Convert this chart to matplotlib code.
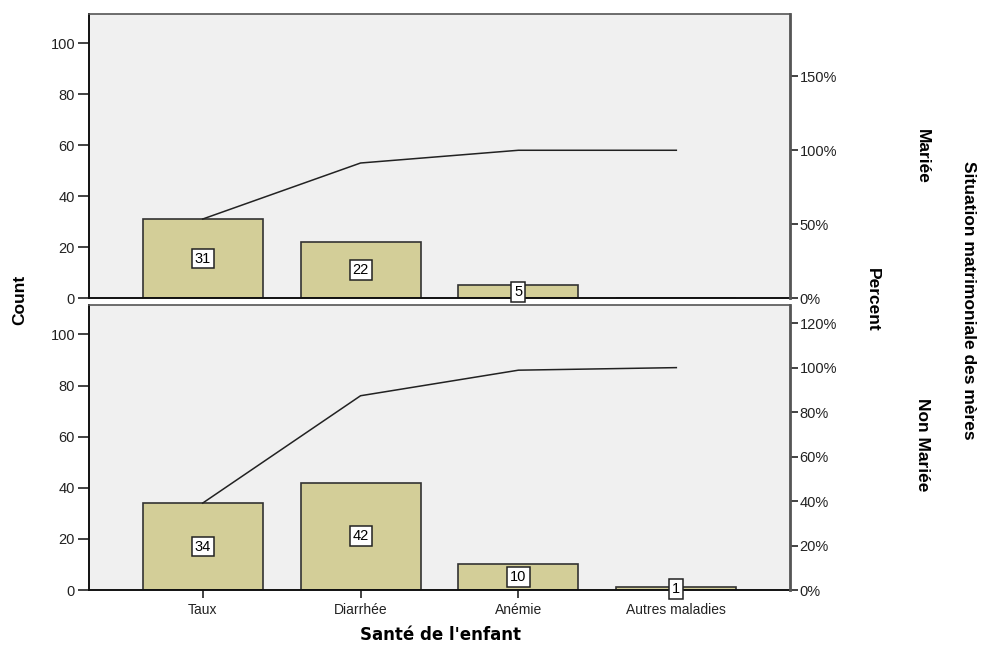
import numpy as np
import matplotlib
matplotlib.use("Agg")
import matplotlib.pyplot as plt
from matplotlib.ticker import FuncFormatter

# data
categories = ["Taux", "Diarrhée", "Anémie", "Autres maladies"]
groups = ["Mariée", "Non Mariée"]
counts_mariee = [31, 22, 5, 0]
counts_non_mariee = [34, 42, 10, 1]
pct_ticks_mariee = [0, 50, 100, 150]
pct_ticks_non_mariee = [0, 20, 40, 60, 80, 100, 120]
count_ticks = [0, 20, 40, 60, 80, 100]

bar_color = "#d3ce98"
bg = "#f0f0f0"
plt.rcParams["font.family"] = ["Liberation Sans", "DejaVu Sans"]

W, H = 982, 648
fig = plt.figure(figsize=(W / 100, H / 100), dpi=100)

def panel(rect, counts, pct_ticks, show_x):
    ax = fig.add_axes(rect)
    ax.set_facecolor(bg)
    x = np.arange(len(categories))
    ax.bar(x, counts, width=0.76, color=bar_color, edgecolor="#333333", linewidth=1.2, zorder=2)
    cum = np.cumsum(counts)
    total = cum[-1]
    ax.plot(x, cum, color="#222222", linewidth=1.1, zorder=3)
    for xi, c in zip(x, counts):
        if c > 0:
            ax.text(xi, c / 2, str(c), ha="center", va="center", fontsize=10.5, zorder=4,
                    bbox=dict(boxstyle="square,pad=0.2", fc="white", ec="#222222", lw=1.1))
    ymax = 111.5
    ax.set_ylim(0, ymax)
    ax.set_xlim(-0.72, 3.72)
    ax.set_yticks(count_ticks)
    ax.tick_params(axis="y", labelsize=10.5, length=8, width=1.2, colors="#222222", pad=2)
    if show_x:
        ax.set_xticks(x)
        ax.set_xticklabels(categories, fontsize=10)
        ax.tick_params(axis="x", length=6, width=1.2, colors="#222222")
    else:
        ax.set_xticks([])
    for s in ["left", "bottom"]:
        ax.spines[s].set_linewidth(1.4)
        ax.spines[s].set_color("#111111")
    ax.spines["top"].set_color("#555555")
    ax.spines["top"].set_linewidth(1.2)
    ax2 = ax.twinx()
    ax2.set_ylim(0, ymax / total * 100)
    ax2.set_yticks(pct_ticks)
    ax2.yaxis.set_major_formatter(FuncFormatter(lambda v, p: "%d%%" % v))
    ax2.tick_params(axis="y", labelsize=10.5, length=6, width=1.2, colors="#222222", pad=1)
    ax2.spines["right"].set_color("#555555")
    ax2.spines["right"].set_linewidth(2)
    for s in ["left", "top", "bottom"]:
        ax2.spines[s].set_visible(False)
    return ax

left, right = 89, 790
panel([left / W, (H - 298) / H, (right - left) / W, (298 - 14) / H], counts_mariee, pct_ticks_mariee, False)
panel([left / W, (H - 590) / H, (right - left) / W, (590 - 305) / H], counts_non_mariee, pct_ticks_non_mariee, True)

bold = dict(fontweight="bold", family=["Liberation Sans Narrow", "Liberation Sans", "DejaVu Sans"])
fig.text(20 / W, 1 - 300 / H, "Count", rotation=90, ha="center", va="center", fontsize=12.5, **bold)
fig.text(872 / W, 1 - 300 / H, "Percent", rotation=270, ha="center", va="center", fontsize=12.5, **bold)
fig.text(922 / W, 1 - 156 / H, groups[0], rotation=270, ha="center", va="center", fontsize=12.5, **bold)
fig.text(922 / W, 1 - 445 / H, groups[1], rotation=270, ha="center", va="center", fontsize=12.5, **bold)
fig.text(968 / W, 1 - 300 / H, "Situation matrimoniale des mères", rotation=270, ha="center", va="center",
         fontsize=12.5, **bold)
fig.text(440 / W, 1 - 635 / H, "Santé de l'enfant", ha="center", va="center", fontsize=12,
         fontweight="bold", family="DejaVu Sans")

fig.savefig("out.png", dpi=100, facecolor="white")
